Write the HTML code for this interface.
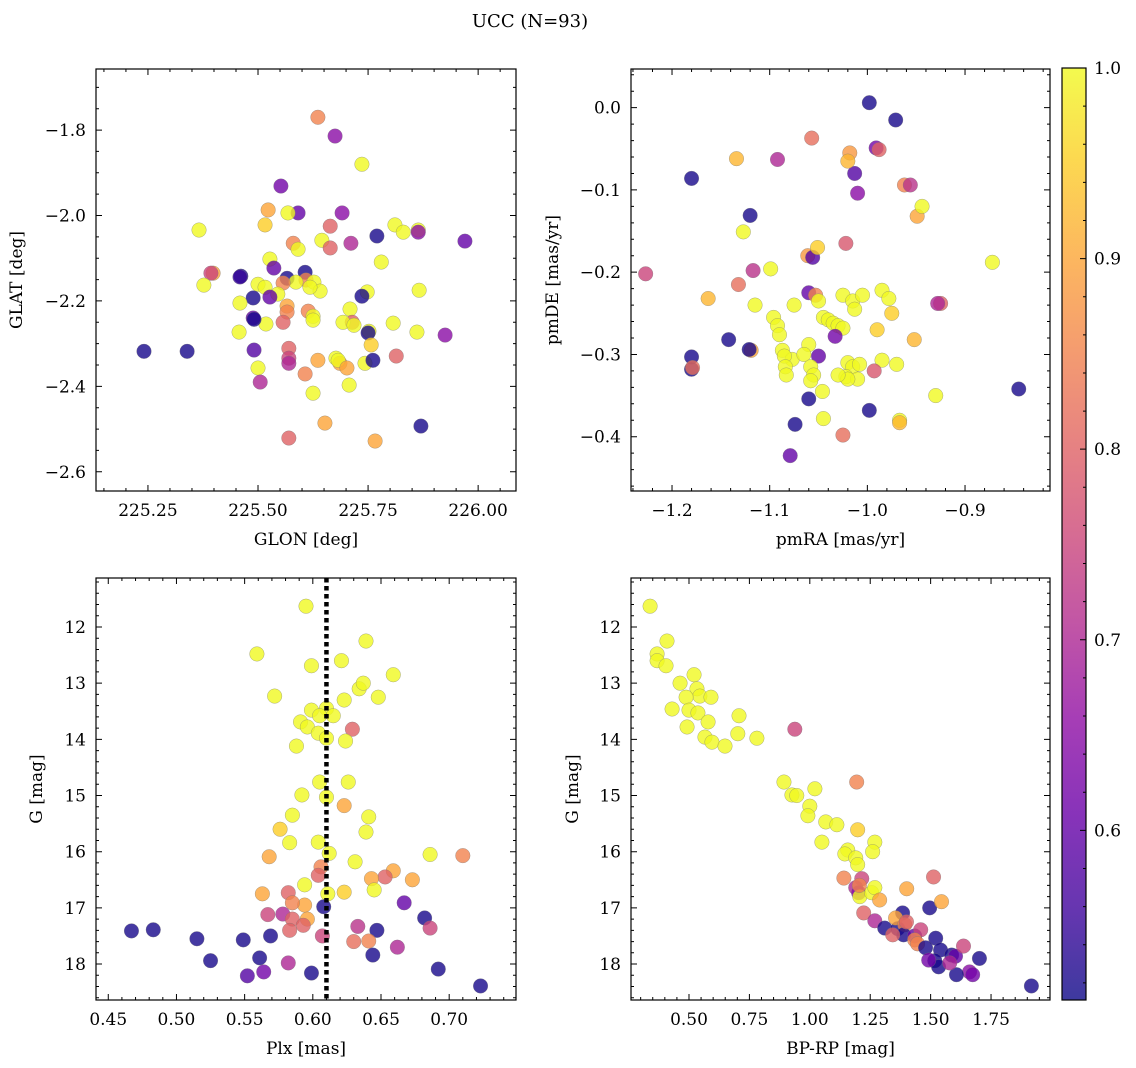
<!DOCTYPE html>
<html><head><meta charset="utf-8"><style>
html,body{margin:0;padding:0;background:#fff}
svg{display:block}
text{font-family:"DejaVu Serif","Liberation Serif",serif;fill:#000}
</style></head><body>
<svg id="fig" width="1136" height="1068" viewBox="0 0 1136 1068" xmlns="http://www.w3.org/2000/svg">
<defs>
<linearGradient id="plasmaGrad" x1="0" y1="1" x2="0" y2="0">
<stop offset="0" stop-color="#0d0887"/><stop offset="0.1" stop-color="#41049d"/><stop offset="0.2" stop-color="#6a00a8"/><stop offset="0.3" stop-color="#8f0da4"/><stop offset="0.4" stop-color="#b12a90"/><stop offset="0.5" stop-color="#cc4778"/><stop offset="0.6" stop-color="#e16462"/><stop offset="0.7" stop-color="#f2844b"/><stop offset="0.8" stop-color="#fca636"/><stop offset="0.9" stop-color="#fcce25"/><stop offset="1" stop-color="#f0f921"/>
</linearGradient>
</defs>
<text x="530" y="27" font-size="18" text-anchor="middle">UCC (N=93)</text>
</svg>
<script>
const glon = [225.636,225.675,225.736,225.552,225.591,225.568,225.523,225.691,225.664,225.516,225.811,225.830,225.864,225.864,225.770,225.366,225.645,225.580,225.591,225.664,225.711,225.970,225.527,225.780,225.398,225.393,225.461,225.536,225.566,225.607,225.609,225.586,225.627,225.641,225.557,225.377,225.500,225.516,225.545,225.618,225.748,225.736,225.866,225.489,225.709,225.614,225.625,225.459,225.566,225.566,225.557,225.518,225.489,225.625,225.714,225.693,225.718,225.752,225.457,225.750,225.807,225.861,225.925,225.491,225.241,225.339,225.491,225.570,225.570,225.570,225.607,225.636,225.677,225.686,225.682,225.743,225.702,225.761,225.814,225.757,225.500,225.505,225.625,225.707,225.652,225.766,225.570,225.870,225.459,225.527];
const glat = [-1.770,-1.814,-1.880,-1.931,-1.994,-1.994,-1.987,-1.994,-2.025,-2.022,-2.022,-2.039,-2.034,-2.039,-2.048,-2.034,-2.058,-2.065,-2.079,-2.076,-2.065,-2.060,-2.102,-2.109,-2.135,-2.135,-2.142,-2.123,-2.147,-2.133,-2.151,-2.156,-2.156,-2.177,-2.158,-2.163,-2.161,-2.168,-2.184,-2.168,-2.179,-2.189,-2.175,-2.193,-2.219,-2.224,-2.236,-2.205,-2.212,-2.226,-2.250,-2.254,-2.240,-2.245,-2.250,-2.250,-2.257,-2.271,-2.273,-2.275,-2.252,-2.273,-2.280,-2.243,-2.318,-2.318,-2.315,-2.311,-2.334,-2.346,-2.371,-2.339,-2.334,-2.346,-2.339,-2.346,-2.357,-2.339,-2.329,-2.303,-2.357,-2.390,-2.416,-2.397,-2.486,-2.528,-2.521,-2.493,-2.144,-2.191];
const prob1 = [.85,.65,1,.62,.6,1,.9,.65,.8,.95,1,1,1,.65,.52,1,1,.85,1,.8,.7,.6,1,1,.9,.75,.52,.6,.52,.52,.85,1,1,1,.85,1,1,1,1,1,1,.52,1,.52,1,.85,1,1,.9,.85,.8,1,.6,1,.8,1,1,1,1,.52,1,1,.65,.52,.52,.52,.58,.8,.75,.7,.85,.9,1,.9,1,1,.9,.52,.8,.95,1,.7,1,1,.9,.9,.8,.52,.55,.6];
const pmra = [-0.998,-0.971,-1.18,-0.991,-0.988,-1.134,-1.092,-1.057,-1.018,-1.013,-1.010,-0.962,-0.956,-0.949,-0.944,-1.12,-1.127,-1.227,-0.872,-1.099,-1.117,-1.132,-1.163,-1.061,-1.056,-1.051,-1.022,-1.142,-1.115,-1.096,-1.092,-1.090,-1.087,-1.119,-1.121,-1.18,-1.18,-1.179,-1.077,-1.085,-1.084,-1.083,-1.06,-1.065,-1.05,-1.058,-1.055,-1.058,-1.046,-1.06,-1.074,-1.079,-1.045,-1.025,-1.075,-1.06,-1.053,-1.050,-1.045,-1.040,-1.035,-1.030,-1.025,-1.033,-1.025,-1.015,-1.013,-1.005,-1.02,-1.015,-1.008,-1.022,-1.01,-1.02,-1.03,-0.990,-0.985,-0.978,-0.975,-0.985,-0.97,-0.993,-0.998,-0.967,-0.967,-0.952,-0.930,-0.925,-0.928,-0.845,-1.02];
const pmde = [0.006,-0.015,-0.086,-0.049,-0.051,-0.062,-0.063,-0.037,-0.055,-0.080,-0.104,-0.094,-0.094,-0.132,-0.120,-0.131,-0.151,-0.202,-0.188,-0.196,-0.198,-0.215,-0.232,-0.180,-0.182,-0.170,-0.165,-0.282,-0.240,-0.255,-0.265,-0.276,-0.295,-0.295,-0.294,-0.303,-0.318,-0.316,-0.306,-0.302,-0.315,-0.325,-0.288,-0.300,-0.302,-0.315,-0.325,-0.332,-0.345,-0.354,-0.385,-0.423,-0.378,-0.398,-0.240,-0.225,-0.228,-0.235,-0.255,-0.258,-0.262,-0.265,-0.268,-0.278,-0.228,-0.235,-0.245,-0.228,-0.310,-0.315,-0.312,-0.327,-0.330,-0.330,-0.325,-0.270,-0.222,-0.232,-0.250,-0.307,-0.312,-0.320,-0.368,-0.380,-0.383,-0.282,-0.350,-0.238,-0.238,-0.342,-0.065];
const prob2 = [.52,.52,.52,.62,.8,.92,.7,.82,.88,.58,.65,.85,.72,.9,1,.52,1,.75,1,1,.72,.82,.92,.88,.58,.95,.78,.52,1,1,1,1,1,.9,.52,.52,.52,.82,1,1,1,1,1,1,.6,1,1,1,1,.52,.52,.6,1,.82,1,.6,.85,1,1,1,1,1,1,.62,1,1,1,1,1,1,1,1,1,1,1,.95,1,1,.95,1,1,.78,.52,1,.92,.92,1,.8,.7,.52,.92];
const plx = [0.595,0.559,0.639,0.621,0.599,0.659,0.572,0.634,0.637,0.623,0.648,0.610,0.599,0.605,0.615,0.591,0.596,0.629,0.604,0.588,0.610,0.624,0.605,0.626,0.592,0.610,0.623,0.585,0.576,0.641,0.639,0.583,0.604,0.612,0.568,0.686,0.710,0.631,0.606,0.659,0.653,0.643,0.673,0.604,0.594,0.645,0.623,0.563,0.582,0.611,0.594,0.585,0.608,0.567,0.578,0.585,0.596,0.667,0.682,0.583,0.593,0.633,0.647,0.686,0.607,0.630,0.641,0.662,0.644,0.569,0.549,0.467,0.483,0.515,0.525,0.561,0.564,0.552,0.582,0.599,0.692,0.723];
const gmag3 = [11.63,12.48,12.25,12.60,12.69,12.85,13.23,13.10,13.00,13.30,13.25,13.45,13.48,13.58,13.58,13.69,13.78,13.82,13.89,14.12,13.98,14.03,14.76,14.76,14.99,15.03,15.18,15.35,15.60,15.38,15.65,15.84,15.83,16.03,16.09,16.05,16.07,16.18,16.27,16.34,16.45,16.48,16.50,16.42,16.59,16.68,16.72,16.75,16.73,16.75,16.95,16.91,16.98,17.12,17.11,17.20,17.20,16.91,17.18,17.40,17.31,17.33,17.40,17.36,17.50,17.60,17.59,17.70,17.84,17.50,17.57,17.41,17.39,17.55,17.94,17.89,18.14,18.21,17.98,18.16,18.09,18.39];
const prob3 = [1,1,1,1,1,1,1,1,1,1,1,1,1,1,1,1,1,.8,1,1,1,1,1,1,1,1,.9,1,.95,1,1,1,1,1,.9,1,.85,1,.85,.9,.8,.9,.9,.8,1,1,.95,.9,.8,1,.9,.85,.52,.75,.7,.8,.9,.6,.52,.8,.8,.72,.52,.75,.75,.82,.85,.7,.52,.52,.52,.52,.52,.52,.52,.52,.62,.58,.7,.52,.52,.52];
const bprp = [0.339,0.368,0.409,0.368,0.405,0.521,0.533,0.463,0.545,0.488,0.591,0.430,0.500,0.537,0.579,0.492,0.707,0.702,0.566,0.595,0.649,0.781,0.938,0.893,0.926,0.946,1.021,1.000,1.194,0.992,1.066,1.198,1.112,1.269,1.050,1.157,1.145,1.260,1.190,1.198,1.215,1.141,1.190,1.202,1.207,1.256,1.269,1.289,1.223,1.269,1.401,1.384,1.310,1.364,1.355,1.393,1.388,1.434,1.459,1.434,1.446,1.496,1.521,1.479,1.512,1.545,1.541,1.517,1.533,1.587,1.603,1.636,1.661,1.674,1.702,1.607,1.579,1.917,1.492,1.343,1.205,1.400];
const gmag4 = [11.63,12.48,12.25,12.60,12.69,12.85,13.10,13.00,13.23,13.25,13.25,13.46,13.48,13.53,13.69,13.78,13.58,13.90,13.96,14.05,14.12,13.98,13.82,14.76,14.99,15.00,14.88,15.19,14.76,15.36,15.47,15.61,15.52,15.83,15.83,15.97,16.04,16.00,16.11,16.23,16.48,16.47,16.64,16.73,16.80,16.73,16.64,16.86,17.09,17.23,16.66,17.09,17.36,17.37,17.18,17.30,17.48,17.50,17.39,17.57,17.64,17.00,17.54,17.71,16.45,16.89,17.75,17.94,18.05,17.84,17.86,17.68,18.14,18.19,17.90,18.19,17.98,18.39,17.93,17.48,16.60,17.25];
const prob4 = [1,1,1,1,1,1,1,1,1,1,1,1,1,1,1,1,1,1,1,1,1,1,.75,1,1,1,1,1,.85,1,1,.95,1,1,1,1,1,1,1,1,.75,.85,.7,.65,1,1,1,.9,.8,.7,.9,.52,.52,.52,.9,.85,.52,.6,.75,.85,.85,.52,.52,.52,.8,.9,.52,.52,.52,.52,.6,.75,.65,.62,.52,.52,.7,.52,.62,.8,.85,.8];
const ticks1x = [225.25,225.5,225.75,226.0], labels1x = ["225.25","225.50","225.75","226.00"];
const ticks1y = [-1.8,-2.0,-2.2,-2.4,-2.6], labels1y = ["\u22121.8","\u22122.0","\u22122.2","\u22122.4","\u22122.6"];
const ticks2x = [-1.2,-1.1,-1.0,-0.9], labels2x = ["\u22121.2","\u22121.1","\u22121.0","\u22120.9"];
const ticks2y = [0.0,-0.1,-0.2,-0.3,-0.4], labels2y = ["0.0","\u22120.1","\u22120.2","\u22120.3","\u22120.4"];
const ticks3x = [0.45,0.5,0.55,0.6,0.65,0.7], labels3x = ["0.45","0.50","0.55","0.60","0.65","0.70"];
const ticksG = [12,13,14,15,16,17,18], labelsG = ["12","13","14","15","16","17","18"];
const ticks4x = [0.5,0.75,1.0,1.25,1.5,1.75], labels4x = ["0.50","0.75","1.00","1.25","1.50","1.75"];
const ticksCb = [0.6,0.7,0.8,0.9,1.0], labelsCb = ["0.6","0.7","0.8","0.9","1.0"];
const plxLine = 0.61;
const cmin = 0.511, cmax = 1.0;

const NS = "http://www.w3.org/2000/svg";
const fig = document.getElementById("fig");
const FS = 17;
function mk(tag, attrs, parent){ const e=document.createElementNS(NS,tag); for(const k in attrs) e.setAttribute(k,attrs[k]); (parent||fig).appendChild(e); return e; }
const stops=[[13,8,135],[65,4,157],[106,0,168],[143,13,164],[177,42,144],[204,71,120],[225,100,98],[242,132,75],[252,166,54],[252,206,37],[240,249,33]];
function plasma(v){ let t=(v-cmin)/(cmax-cmin); t=Math.max(0,Math.min(1,t))*10; const i=Math.min(9,Math.floor(t)), f=t-i; const a=stops[i], b=stops[i+1]; return "rgb("+a.map((c,k)=>Math.round(c+(b[k]-c)*f)).join(",")+")"; }

function panel(name, box, xd, yd, xt, xl, yt, yl, xminor, yminor, xs, ys, ps, xlabel, ylabel, ylabX){
  const g = mk("g",{});
  
  
  const sx = v => box.x0 + (v-xd[0])/(xd[1]-xd[0])*(box.x1-box.x0);
  const sy = v => box.y1 - (v-yd[0])/(yd[1]-yd[0])*(box.y1-box.y0);
  const pg = mk("g",{},g);
  
  
  for(let i=0;i<xs.length;i++){
    const c = mk("circle",{cx:sx(xs[i]),cy:sy(ys[i]),r:7.3,fill:plasma(ps[i]),"fill-opacity":0.8,stroke:"#777","stroke-width":0.5,"stroke-opacity":0.6},pg);
    
    
  }
  const fr = mk("rect",{x:box.x0,y:box.y0,width:box.x1-box.x0,height:box.y1-box.y0,fill:"none",stroke:"#000","stroke-width":1.2},g);
  
  
  const tk=[];
  const xs0=Math.ceil(xd[0]/xminor), xs1=Math.floor(xd[1]/xminor);
  for(let k=xs0;k<=xs1;k++){ const x=sx(k*xminor); tk.push(`M${x},${box.y1}v-3M${x},${box.y0}v3`); }
  const a=Math.min(yd[0],yd[1]), b=Math.max(yd[0],yd[1]);
  for(let k=Math.ceil(a/yminor-1e-6);k<=Math.floor(b/yminor+1e-6);k++){ const y=sy(k*yminor); tk.push(`M${box.x0},${y}h3M${box.x1},${y}h-3`); }
  xt.forEach((v,i)=>{ const x=sx(v); tk.push(`M${x},${box.y1}v-6M${x},${box.y0}v6`);
    const t=mk("text",{x:x,y:box.y1+25,"font-size":FS,"text-anchor":"middle"},g); t.textContent=xl[i];
    
     });
  yt.forEach((v,i)=>{ const y=sy(v); tk.push(`M${box.x0},${y}h6M${box.x1},${y}h-6`);
    const t=mk("text",{x:box.x0-10,y:y+6,"font-size":FS,"text-anchor":"end"},g); t.textContent=yl[i];
    
     });
  const tp = mk("path",{d:tk.join(""),stroke:"#000","stroke-width":1,fill:"none"},g);
  
  
  const xlb = mk("text",{x:(box.x0+box.x1)/2,y:box.y1+54,"font-size":FS,"text-anchor":"middle"},g); xlb.textContent=xlabel;
  
  
  const cy=(box.y0+box.y1)/2;
  const ylb = mk("text",{x:ylabX,y:cy,"font-size":FS,"text-anchor":"middle",transform:`rotate(-90 ${ylabX} ${cy})`},g); ylb.textContent=ylabel;
  
  
  return {sx,sy,g};
}
const b1={x0:96,x1:516,y0:69,y1:491}, b2={x0:631,x1:1050,y0:69,y1:491}, b3={x0:96,x1:516,y0:578,y1:1000}, b4={x0:631,x1:1050,y0:578,y1:1000};
panel("glon-glat-panel",b1,[225.132,226.086],[-2.645,-1.657],ticks1x,labels1x,ticks1y,labels1y,0.05,0.05,glon,glat,prob1,"GLON [deg]","GLAT [deg]",22);
panel("proper-motion-panel",b2,[-1.242,-0.813],[-0.466,0.047],ticks2x,labels2x,ticks2y,labels2y,0.02,0.02,pmra,pmde,prob2,"pmRA [mas/yr]","pmDE [mas/yr]",558);
const p3=panel("parallax-panel",b3,[0.441,0.749],[18.64,11.128],ticks3x,labels3x,ticksG,labelsG,0.01,0.2,plx,gmag3,prob3,"Plx [mas]","G [mag]",42);
panel("cmd-panel",b4,[0.260,1.994],[18.64,11.128],ticks4x,labels4x,ticksG,labelsG,0.05,0.2,bprp,gmag4,prob4,"BP-RP [mag]","G [mag]",578);
const lx=p3.sx(plxLine);
const dl=mk("line",{x1:lx,y1:b3.y0,x2:lx,y2:b3.y1,stroke:"#000","stroke-width":4.5,"stroke-dasharray":"4.5 3.5"});


const cb={x0:1062,x1:1086,y0:68,y1:1000};
const cbr=mk("rect",{x:cb.x0,y:cb.y0,width:cb.x1-cb.x0,height:cb.y1-cb.y0,fill:"url(#plasmaGrad)","fill-opacity":0.8,stroke:"#000","stroke-width":1.2});


const csy=v=>cb.y1-(v-cmin)/(cmax-cmin)*(cb.y1-cb.y0);
const ct=[];
for(let k=26;k<=50;k++){ const v=k*0.02; if(v<cmin||v>cmax+1e-9) continue; ct.push(`M${cb.x1},${csy(v)}h-3`); }
ticksCb.forEach((v,i)=>{ const y=csy(v); ct.push(`M${cb.x1},${y}h-6`);
  const t=mk("text",{x:cb.x1+8,y:y+6,"font-size":FS}); t.textContent=labelsCb[i];
  
   });
const ctp=mk("path",{d:ct.join(""),stroke:"#000","stroke-width":1});


</script>
</body></html>
